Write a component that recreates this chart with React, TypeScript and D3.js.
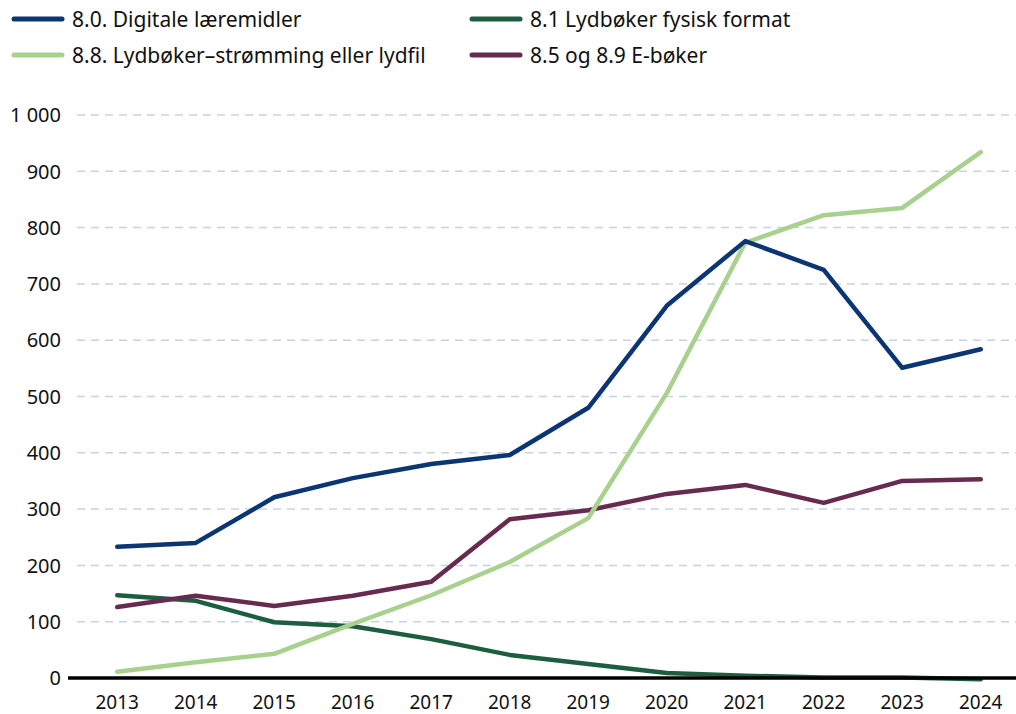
import * as d3 from 'd3'

const years = ['2013', '2014', '2015', '2016', '2017', '2018', '2019', '2020', '2021', '2022', '2023', '2024']

const digitale = [233, 240, 321, 355, 380, 396, 480, 661, 776, 725, 551, 584]
const lydFysisk = [147, 137, 99, 92, 69, 41, 25, 9, 4, 1, 1, -2]
const lydStrom = [11, 28, 43, 96, 147, 206, 284, 506, 773, 822, 835, 934]
const eBoker = [126, 146, 128, 146, 171, 282, 298, 327, 343, 311, 350, 353]

const yTicks = [0, 100, 200, 300, 400, 500, 600, 700, 800, 900, 1000]

const series = [
  { name: '8.0. Digitale læremidler', values: digitale, color: '#0b3673' },
  { name: '8.1 Lydbøker fysisk format', values: lydFysisk, color: '#1d5e41' },
  { name: '8.8. Lydbøker–strømming eller lydfil', values: lydStrom, color: '#a9d18e' },
  { name: '8.5 og 8.9 E-bøker', values: eBoker, color: '#682b50' },
]

// draw order: matches overlap in the picture
const drawOrder = [1, 3, 2, 0]

const W = 1016
const H = 714
const font = '"Noto Sans", "Open Sans", sans-serif'

export default function App() {
  const x = d3.scaleBand<string>().domain(years).range([78, 1020])
  const y = d3.scaleLinear().domain([0, 1000]).range([678, 115])
  const cx = (i: number) => (x(years[i]) ?? 0) + x.bandwidth() / 2

  const line = d3.line<number>()
    .x((_, i) => cx(i))
    .y(d => y(d))

  const fmt = (v: number) => d3.format(',')(v).replace(',', ' ')

  const legendPos = [
    { x: 14, y: 19 },
    { x: 472, y: 19 },
    { x: 14, y: 55 },
    { x: 472, y: 55 },
  ]

  return (
    <svg width={W} height={H} style={{ position: 'absolute', left: 0, top: 0, background: '#fff' }}>
      {/* grid */}
      {yTicks.filter(t => t > 0).map(t => (
        <line key={t} x1={77} x2={W} y1={y(t)} y2={y(t)}
          stroke="#c6d4e0" strokeWidth={1.5} strokeDasharray="8 6" />
      ))}
      {/* y labels */}
      {yTicks.map(t => (
        <text key={t} x={61} y={y(t)} dy="0.36em" textAnchor="end"
          fontFamily={font} fontSize={20} fill="#111">{fmt(t)}</text>
      ))}
      {/* x labels */}
      {years.map((yr, i) => (
        <text key={yr} x={cx(i)} y={709} textAnchor="middle"
          fontFamily={font} fontSize={19} fill="#111">{yr}</text>
      ))}
      {/* lines */}
      {drawOrder.map(k => (
        <path key={k} d={line(series[k].values) ?? ''} fill="none"
          stroke={series[k].color} strokeWidth={4.5} strokeLinecap="round" strokeLinejoin="round" />
      ))}
      {/* x axis */}
      <line x1={68} x2={W} y1={y(0)} y2={y(0)} stroke="#000" strokeWidth={3.5} />
      {/* legend */}
      {series.map((s, i) => (
        <g key={s.name} transform={`translate(${legendPos[i].x},${legendPos[i].y})`}>
          <line x1={0} x2={48} y1={0} y2={0} stroke={s.color} strokeWidth={5} strokeLinecap="round" />
          <text x={58} y={0} dy="0.36em" fontFamily={font} fontSize={21} fill="#111">{s.name}</text>
        </g>
      ))}
    </svg>
  )
}
